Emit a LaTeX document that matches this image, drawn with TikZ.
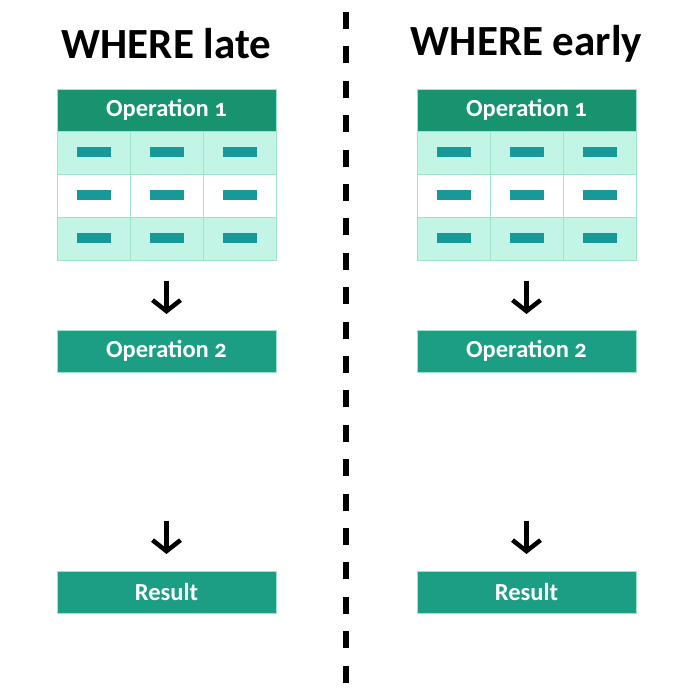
\documentclass[tikz,border=0pt]{standalone}
\usepackage{fontspec}
\setmainfont{Carlito}[Numbers=OldStyle]
\definecolor{hdr}{HTML}{17936F}
\definecolor{opbox}{HTML}{1C9E84}
\definecolor{mint}{HTML}{C2F5E6}
\definecolor{gridc}{HTML}{9FE3C9}
\definecolor{dashc}{HTML}{17999A}
\tikzset{
  title/.style={font=\bfseries\fontsize{43}{48}\selectfont, text=black},
  hdrbox/.style={fill=hdr, draw=gridc, line width=0.8pt, minimum width=219pt, minimum height=42pt, inner sep=0pt, text=white, font=\bfseries\fontsize{24.5}{28}\selectfont},
  opstyle/.style={fill=opbox, draw=gridc, line width=0.8pt, minimum width=219pt, minimum height=42pt, inner sep=0pt, text=white, font=\bfseries\fontsize{24.5}{28}\selectfont},
  cellbox/.style={draw=gridc, line width=0.6pt, minimum width=73pt, minimum height=43pt, inner sep=0pt},
  mintcell/.style={cellbox, fill=mint},
  whitecell/.style={cellbox, fill=white},
  bar/.style={fill=dashc, minimum width=34pt, minimum height=10pt, inner sep=0pt},
  arr/.style={line width=4.5pt, -{Straight Barb[length=11pt,width=28pt,line width=4.5pt]}},
}
\usetikzlibrary{arrows.meta}
\begin{document}
\begin{tikzpicture}[x=1pt,y=-1pt]
\useasboundingbox (0,0) rectangle (700,700);
\fill[white] (0,0) rectangle (700,700);
% divider
\coordinate (dtop) at (346,12);
\coordinate (dbot) at (346,690);
\draw[line width=6pt, dash pattern=on 17pt off 17.4pt] (dtop) -- (dbot);
\foreach \side/\dx/\t in {L/0/WHERE late, R/360/WHERE early}{
  \node[title] (title\side) at (166.5+\dx,44) {\t};
  \node[hdrbox] (op1\side) at (166.5+\dx,110) {Operation 1};
  \foreach \r/\y/\st in {1/152.5/mintcell, 2/195.5/whitecell, 3/238.5/mintcell}{
    \foreach \c/\x in {1/93.5, 2/166.5, 3/239.5}{
      \node[\st] (c\side\r\c) at (\x+\dx,\y) {};
      \node[bar] (b\side\r\c) at (\x+\dx,\y) {};
    }
  }
  \node[opstyle] (op2\side) at (166.5+\dx,351) {Operation 2};
  \node[opstyle] (res\side) at (166.5+\dx,592) {Result};
  \coordinate (a1s\side) at (166.5+\dx,281);
  \coordinate (a1e\side) at (166.5+\dx,314);
  \coordinate (a2s\side) at (166.5+\dx,521);
  \coordinate (a2e\side) at (166.5+\dx,554);
  \draw[arr] (a1s\side) -- (a1e\side);
  \draw[arr] (a2s\side) -- (a2e\side);
}
\end{tikzpicture}
\end{document}
